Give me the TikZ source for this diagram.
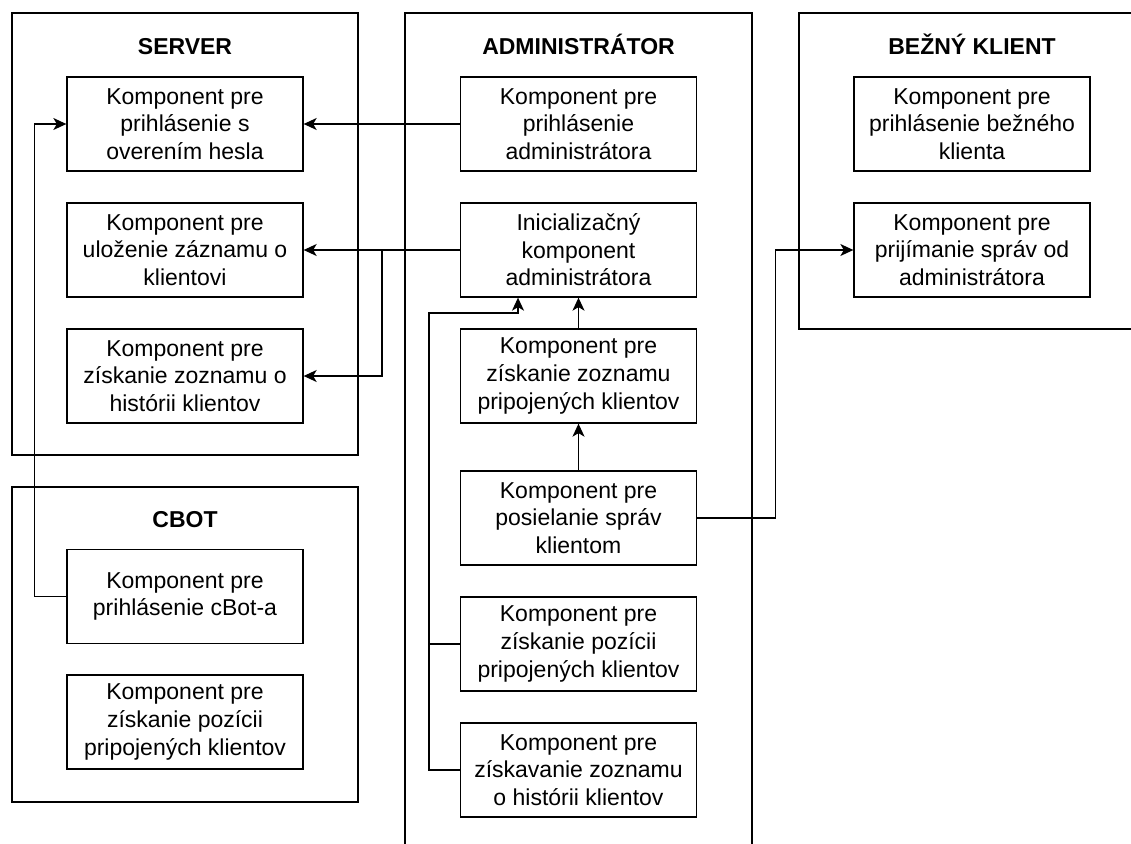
\documentclass[tikz,border=0pt]{standalone}
\usepackage{fontspec}
\setmainfont{Liberation Sans}
\usetikzlibrary{arrows.meta}

\begin{document}
\begin{tikzpicture}[x=1pt, y=-1pt, line width=1.3pt,
  group/.style={draw, rectangle, inner sep=0pt},
  grouptitle/.style={anchor=base, font=\fontsize{23pt}{27.6pt}\selectfont\bfseries},
  comp/.style={draw, rectangle, inner sep=0pt, minimum width=236pt, minimum height=94pt,
    align=center, font=\fontsize{23pt}{27.6pt}\selectfont},
  link/.style={-{Stealth[length=13pt, width=12pt, inset=3.5pt]}}]
\useasboundingbox (0,0) rectangle (1131,843);

% groups
\node[group, minimum width=346pt, minimum height=442pt] (server) at (185,234) {};
\node[group, minimum width=346pt, minimum height=315pt] (cbot) at (185,644.5) {};
\node[group, minimum width=347pt, minimum height=887pt] (admin) at (578.5,456.5) {};
\node[group, minimum width=401pt, minimum height=316pt] (klient) at (999.5,171) {};
\node[grouptitle] at (185,55) {SERVER};
\node[grouptitle] at (185,527) {CBOT};
\node[grouptitle] at (578.5,55) {ADMINISTRÁTOR};
\node[grouptitle] at (972,55) {BEŽNÝ KLIENT};

% server
\node[comp] (srvLogin) at (185,124) {Komponent pre\\prihlásenie s\\overením hesla};
\node[comp] (srvSave) at (185,250) {Komponent pre\\uloženie záznamu o\\klientovi};
\node[comp] (srvHist) at (185,376) {Komponent pre\\získanie zoznamu o\\histórii klientov};

% cbot
\node[comp] (cbotLogin) at (185,596.5) {Komponent pre\\prihlásenie cBot-a};
\node[comp] (cbotPos) at (185,722) {Komponent pre\\získanie pozícii\\pripojených klientov};

% administrator
\node[comp] (admLogin) at (578.5,124) {Komponent pre\\prihlásenie\\administrátora};
\node[comp] (admInit) at (578.5,250) {Inicializačný\\komponent\\administrátora};
\node[comp] (admList) at (578.5,376) {Komponent pre\\získanie zoznamu\\pripojených klientov};
\node[comp] (admSend) at (578.5,518) {Komponent pre\\posielanie správ\\klientom};
\node[comp] (admPos) at (578.5,644) {Komponent pre\\získanie pozícii\\pripojených klientov};
\node[comp] (admHist) at (578.5,770) {Komponent pre\\získavanie zoznamu\\o histórii klientov};

% bezny klient
\node[comp] (kliLogin) at (972,124) {Komponent pre\\prihlásenie bežného\\klienta};
\node[comp] (kliMsg) at (972,250) {Komponent pre\\prijímanie správ od\\administrátora};

% connectors
\coordinate (split) at (382,250);
\coordinate (busL) at (429,313);
\coordinate (busR) at (518,313);
\draw[link] (admLogin.west) -- (srvLogin.east);
\draw[link] (admInit.west) -- (srvSave.east);
\draw[link] (split) |- (srvHist.east);
\draw[link] (admList.north) -- (admInit.south);
\draw[link] (admSend.north) -- (admList.south);
\draw[link] (admSend.east) -- ++(78,0) |- (kliMsg.west);
\draw[link] (admHist.west) -| (busL) -- (busR) -- (busR |- admInit.south);
\draw (admPos.west) -- (admPos.west -| busL);
\draw[link] (cbotLogin.west) -- ++(-32,0) |- (srvLogin.west);
\end{tikzpicture}
\end{document}
